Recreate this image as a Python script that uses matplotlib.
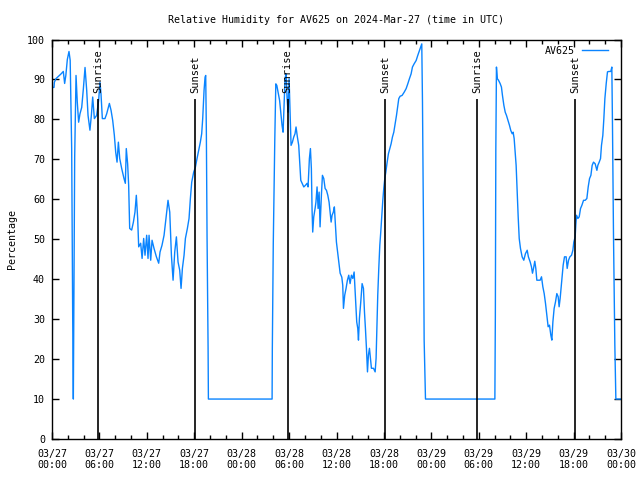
import matplotlib
matplotlib.use('Agg')
import matplotlib.pyplot as plt
import matplotlib.dates as mdates
import pandas as pd

plt.rcParams['font.family'] = ['DejaVu Sans Mono']
plt.rcParams['font.size'] = 7.2

# hours since 2024-03-27 00:00 UTC, and relative humidity (%)
hours = [
    0.0, 0.25, 0.3, 0.5, 0.93, 1.15, 1.43, 1.6, 1.75, 1.94, 2.15, 2.3, 2.49, 2.62, 2.7,
    2.76, 2.87, 3.04, 3.2, 3.37, 3.54, 3.76, 3.97, 4.18, 4.39, 4.56, 4.8, 4.98, 5.15,
    5.36, 5.65, 5.9, 6.07, 6.2, 6.37, 6.7, 6.92, 7.26, 7.47, 7.68, 7.89, 8.06, 8.23,
    8.4, 8.57, 8.82, 9.11, 9.28, 9.4, 9.57, 9.7, 9.83, 10.08, 10.3, 10.5, 10.67, 10.84,
    10.97, 11.22, 11.4, 11.6, 11.77, 11.98, 12.15, 12.28, 12.49, 12.66, 12.91, 13.21,
    13.5, 13.67, 13.92, 14.18, 14.47, 14.68, 14.9, 15.11, 15.32, 15.53, 15.74, 15.95,
    16.16, 16.33, 16.5, 16.71, 16.88, 17.13, 17.34, 17.51, 17.68, 17.93, 18.14, 18.35,
    18.56, 18.77, 18.94, 19.07, 19.24, 19.37, 19.45, 19.53, 19.62, 19.75, 19.79,
    27.85, 27.88, 28.0, 28.19, 28.32, 28.45, 28.65, 28.8, 28.94, 29.11, 29.24, 29.37,
    29.49, 29.62, 29.75, 29.87, 30.0, 30.12, 30.25, 30.42, 30.59, 30.75, 30.88, 31.05,
    31.22, 31.35, 31.48, 31.65, 31.86, 32.07, 32.28, 32.4, 32.57, 32.7, 32.82, 32.91,
    32.99, 33.12, 33.29, 33.4, 33.54, 33.67, 33.8, 33.92, 34.09, 34.22, 34.39, 34.56,
    34.73, 34.9, 35.06, 35.19, 35.32, 35.44, 35.6, 35.73, 35.86, 35.99, 36.11, 36.28,
    36.46, 36.67, 36.79, 36.88, 37.04, 37.21, 37.38, 37.55, 37.72, 37.89, 38.06, 38.23,
    38.4, 38.56, 38.69, 38.78, 38.9, 39.07, 39.24, 39.41, 39.54, 39.66, 39.79, 39.92,
    40.04, 40.17, 40.3, 40.42, 40.68, 40.89, 41.01, 41.1, 41.22, 41.35, 41.48, 41.6,
    41.73, 41.86, 41.98, 42.11, 42.24, 42.41, 42.57, 42.74, 42.91, 43.08, 43.25, 43.42,
    43.59, 43.76, 43.88, 44.05, 44.3, 44.56, 44.81, 45.02, 45.23, 45.44, 45.61, 45.82,
    46.08, 46.28, 46.5, 46.66, 46.79, 46.88, 47.0, 47.09, 47.26,
    56.04, 56.1, 56.16, 56.24, 56.35, 56.5, 56.7, 56.87, 57.0, 57.18, 57.35, 57.51,
    57.7, 57.89, 58.05, 58.23, 58.35, 58.48, 58.6, 58.73, 58.86, 58.99, 59.12, 59.28,
    59.49, 59.7, 59.91, 60.13, 60.28, 60.51, 60.67, 60.8, 60.93, 61.09, 61.22, 61.35,
    61.77, 61.94, 62.11, 62.28, 62.45, 62.61, 62.78, 62.95, 63.12, 63.25, 63.38, 63.54,
    63.71, 63.88, 64.05, 64.17, 64.3, 64.43, 64.56, 64.68, 64.85, 65.06, 65.19, 65.36,
    65.53, 65.74, 65.91, 66.03, 66.2, 66.28, 66.37, 66.54, 66.71, 66.88, 67.05, 67.26,
    67.47, 67.68, 67.85, 68.02, 68.19, 68.35, 68.52, 68.73, 68.95, 69.07, 69.24, 69.41,
    69.53, 69.7, 69.83, 69.96, 70.13, 70.29, 70.46, 70.71, 70.84, 70.92, 71.05, 71.22,
    71.35, 72.0,
]
humidity = [
    88, 88, 89.3, 90.2, 91, 91.4, 92, 89, 91, 95, 97, 94.8, 72.7, 30, 10,
    30, 70.6, 91, 84.3, 79.3, 81.4, 83, 87.7, 93, 87.3, 81, 77.3, 81, 85.6,
    80.2, 81, 84.75, 89.3, 86.4, 80.2, 80.2, 81.4, 84, 82.3, 79.75, 76, 71.8, 69.3,
    74.3, 70.2, 67.7, 65.2, 64, 72.7, 68.9, 63.5, 52.7, 52.3, 54.3, 56.8, 61, 55.2,
    48.1, 49, 45.2, 50.2, 46, 51, 45.2, 51, 44.75, 49.75, 47.7, 45.6,
    44, 46.8, 48.5, 51, 56, 59.75, 56.8, 46, 39.75, 46.8, 50.6, 44.3,
    42.25, 37.7, 42.7, 46, 50.2, 52.7, 55.2, 60.2, 64.3, 66.8, 68, 70.2,
    72.25, 74.3, 76.4, 80.2, 87.25, 90.6, 91, 77.25, 50.6, 23, 10,
    10, 22.7, 49, 74.75, 88.9, 88.5, 86.4, 84.75, 81.8, 78.5, 76.8, 83.5,
    90.2, 91.4, 85.2, 81.8, 90.2, 81.8, 73.5, 74.3, 75.6, 76.4, 78.1, 75.6,
    73.5, 69.3, 64.75, 64, 63.1, 63.5, 64, 63.1, 70.2, 72.7, 67.7, 57.25,
    51.8, 55.6, 57.7, 59.3, 63.1, 57.7, 61.8, 53.1, 61, 66, 65.2, 62.7,
    62.25, 61, 59.3, 56.8, 54.3, 56, 56.8, 58.1, 53.5, 49.3, 47.25, 44.3,
    41.5, 40.5, 38.5, 32.7, 36, 37.7, 39.75, 41, 38.9, 41, 40.2, 41.8,
    35.2, 29.3, 27.7, 24.75, 30.2, 34.3, 38.9, 37.7, 31.8, 27.7, 22.7, 16.8,
    21, 22.7, 20.2, 17.7, 17.7, 16.8, 20.2, 26.8, 36, 42.7, 48.5, 51.8,
    56, 59.75, 62.7, 65.2, 66.8, 69.3, 71.4, 72.7, 73.9, 75.6, 76.8, 78.9,
    81, 83.5, 85.2, 85.8, 86, 86.8, 87.7, 88.9, 90.2, 91.4, 93.1, 93.9,
    94.75, 96, 97.25, 98.1, 98.9, 84.3, 54.3, 24.75, 10,
    10, 30.6, 72.25, 93.1, 90.2, 89.8, 89, 88.1, 86, 83.5, 81.8, 81,
    79.75, 78.5, 77.25, 76.4, 76.8, 75.2, 71.8, 68.5, 61.8, 55.6, 50.2, 47.7,
    45.6, 44.75, 46.4, 47.25, 45.6, 44.3, 43.1, 41.5, 42.7, 44.5, 42.7, 39.75,
    39.75, 40.6, 38.1, 36.4, 33.9, 31, 28.1, 28.5, 26, 24.75, 29.3, 32.7,
    34.3, 36.4, 35.6, 33.1, 35.2, 38.1, 41, 43.5, 45.6, 45.6, 42.7, 44.75,
    45.6, 46, 47.25, 49.3, 50.6, 53.5, 56, 55.2, 55.6, 57.7, 58.5, 59.75,
    59.75, 60.2, 63.1, 65.2, 66, 68.5, 69.3, 68.9, 67.25, 68.5, 69.3, 70.2,
    73.5, 76, 80.2, 85.2, 89, 91.9, 92, 92, 93.1, 79, 51, 23.5,
    10, 10,
]

sun_hours = [5.85, 18.12, 29.82, 42.13, 53.8, 66.15]
sun_labels = ['Sunrise', 'Sunset', 'Sunrise', 'Sunset', 'Sunrise', 'Sunset']

start = pd.Timestamp('2024-03-27 00:00')
times = start + pd.to_timedelta(hours, unit='h')
sun_times = start + pd.to_timedelta(sun_hours, unit='h')

fig = plt.figure(figsize=(6.4, 4.8), dpi=100)
ax = fig.add_axes([52 / 640, 41 / 480, 569 / 640, 399.5 / 480])

ax.plot(times, humidity, color='#0a84ff', lw=1.0, label='AV625')

for t, lab in zip(sun_times, sun_labels):
    ax.vlines(t, 0, 85, color='black', lw=1.2)
    ax.text(t, 86.5, lab, rotation=90, ha='center', va='bottom', fontsize=7.5)

ax.set_xlim(start, start + pd.Timedelta(hours=72))
ax.set_ylim(0, 100)
ax.set_yticks(range(0, 101, 10))
ax.xaxis.set_major_locator(mdates.HourLocator(byhour=[0, 6, 12, 18]))
ax.xaxis.set_minor_locator(mdates.HourLocator(interval=2))
ax.xaxis.set_major_formatter(mdates.DateFormatter('%m/%d\n%H:%M'))
ax.tick_params(which='both', direction='in', top=True, right=True, width=1)
ax.tick_params(which='major', length=5)
ax.tick_params(which='minor', length=3)
ax.tick_params(axis='x', which='major', pad=7)
ax.tick_params(axis='y', which='major', pad=5)
for s in ax.spines.values():
    s.set_linewidth(1)

ax.set_title('Relative Humidity for AV625 on 2024-Mar-27 (time in UTC)',
             fontsize=7.2, pad=12)
ax.set_ylabel('Percentage')
ax.yaxis.set_label_coords(-0.062, 0.5)

ax.legend(loc='upper right', frameon=False, markerfirst=False,
          handlelength=2.6, handletextpad=0.7, borderaxespad=0.2,
          bbox_to_anchor=(1 - 7 / 569, 1.0))

fig.savefig('out.png', dpi=100)
